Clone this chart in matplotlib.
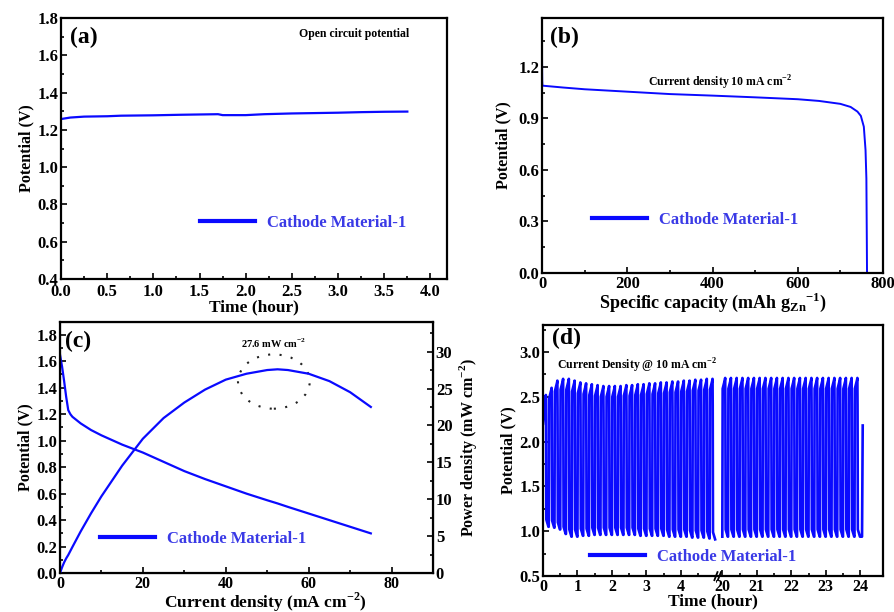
import numpy as np
import matplotlib
matplotlib.use("Agg")
import matplotlib.pyplot as plt
from matplotlib.patches import Ellipse
from matplotlib.ticker import MultipleLocator, FixedLocator, FormatStrFormatter

plt.rcParams['font.family'] = ['Liberation Serif', 'DejaVu Serif']
plt.rcParams['font.weight'] = 'bold'
plt.rcParams['axes.labelweight'] = 'bold'
plt.rcParams['mathtext.fontset'] = 'custom'
plt.rcParams['mathtext.rm'] = 'Liberation Serif:bold'
plt.rcParams['mathtext.bf'] = 'Liberation Serif:bold'

BLUE = '#0a0aff'
TXT_BLUE = '#3a3ae6'
LABEL = 'Cathode Material-1'

# (a) open circuit potential vs time
ocp_time = [0.0, 0.1, 0.25, 0.5, 0.65, 1.0, 1.3, 1.7, 1.75, 2.0, 2.2, 2.5, 2.75, 3.0, 3.25, 3.5, 3.75]
ocp_volt = [1.258, 1.266, 1.271, 1.273, 1.276, 1.278, 1.281, 1.284, 1.279, 1.279, 1.284, 1.288, 1.290,
            1.292, 1.295, 1.297, 1.298]

# (b) galvanostatic discharge
cap = [0, 0.5, 1, 50, 100, 200, 300, 400, 500, 600, 650, 700, 724, 740, 748, 755, 759, 761, 762, 762.5]
cap_volt = [1.26, 1.12, 1.091, 1.08, 1.07, 1.056, 1.042, 1.033, 1.023, 1.012, 1.002, 0.985, 0.967,
            0.94, 0.915, 0.852, 0.716, 0.55, 0.2, 0.0]

# (c) polarization and power density
cur = [0, 0.5, 1, 1.5, 2, 2.5, 3, 5, 7.5, 10, 15, 20, 25, 30, 35, 40, 45, 50, 52.5, 55, 60, 65, 70, 75]
pol_volt = [1.65, 1.56, 1.45, 1.33, 1.23, 1.20, 1.18, 1.13, 1.08, 1.04, 0.97, 0.91, 0.84, 0.77, 0.71,
            0.655, 0.60, 0.55, 0.526, 0.50, 0.45, 0.40, 0.35, 0.30]
power = [0, 0.78, 1.45, 2.0, 2.46, 3.0, 3.54, 5.65, 8.1, 10.4, 14.55, 18.2, 21.0, 23.1, 24.85, 26.2,
         27.0, 27.5, 27.6, 27.5, 27.0, 26.0, 24.5, 22.5]
peak_cur = 52.5
peak_power = 27.6

# (d) charge/discharge cycling, 10 min per cycle
cycle_period = 1 / 6
seg1_start = 0.0
seg1_high = [2.52, 2.60, 2.68, 2.70, 2.70, 2.68, 2.66, 2.65, 2.64, 2.63, 2.62, 2.62, 2.62, 2.62, 2.63,
             2.63, 2.64, 2.64, 2.65, 2.65, 2.66, 2.66, 2.67, 2.67, 2.68, 2.68, 2.69, 2.69, 2.70, 2.70]
seg1_low = [1.05, 1.04, 1.02, 0.97, 0.94, 0.94, 0.95, 0.95, 0.96, 0.96, 0.96, 0.96, 0.96, 0.96, 0.96,
            0.96, 0.95, 0.95, 0.95, 0.95, 0.95, 0.94, 0.94, 0.94, 0.94, 0.93, 0.93, 0.93, 0.92, 0.91]
seg2_start = 20.0
seg2_high = [2.71] * 24
seg2_low = [0.94] * 24
seg2_tail = 2.18
break_shift = 14.8  # hours 20-24 are pulled left next to 0-5

fig = plt.figure(figsize=(8.95, 6.12), dpi=100)


def style(ax, xsize=12, xpad=2):
    ax.tick_params(which='both', direction='in', labelsize=12, width=1.2)
    ax.tick_params(which='major', length=4, pad=2)
    ax.tick_params(axis='x', labelsize=xsize, pad=xpad)
    ax.tick_params(which='minor', length=2)
    ax.tick_params(axis='y', right=False)
    for s in ax.spines.values():
        s.set_linewidth(1.6)
    for lab in ax.get_xticklabels() + ax.get_yticklabels():
        lab.set_fontweight('bold')


def add_legend(ax, x, y):
    leg = ax.legend(loc='center left', bbox_to_anchor=(x, y), frameon=False, borderpad=0,
                    borderaxespad=0, handlelength=3.3, handletextpad=0.7,
                    prop={'size': 12, 'weight': 'bold'})
    for t in leg.get_texts():
        t.set_color(TXT_BLUE)
    for h in leg.get_lines():
        h.set_linewidth(3)


# ---- (a) ----
ax = fig.add_axes([0.0682, 0.5441, 0.4313, 0.4265])
ax.plot(ocp_time, ocp_volt, color=BLUE, lw=1.6, label=LABEL)
ax.set_xlim(0, 4.18)
ax.set_ylim(0.4, 1.8)
ax.xaxis.set_major_locator(MultipleLocator(0.5))
ax.xaxis.set_minor_locator(MultipleLocator(0.25))
ax.yaxis.set_major_locator(MultipleLocator(0.2))
ax.yaxis.set_minor_locator(MultipleLocator(0.1))
ax.set_xlabel('Time (hour)', fontsize=12.5, labelpad=0)
ax.set_ylabel('Potential (V)', fontsize=11.5, labelpad=2)
ax.text(0.023, 0.927, '(a)', transform=ax.transAxes, fontsize=17, va='center')
ax.text(0.759, 0.939, 'Open circuit potential', transform=ax.transAxes, fontsize=8.5,
        ha='center', va='center')
style(ax, xpad=3.5)
add_legend(ax, 0.36, 0.215)

# ---- (b) ----
ax = fig.add_axes([0.6056, 0.5539, 0.381, 0.4167])
ax.plot(cap, cap_volt, color=BLUE, lw=1.4, label=LABEL)
ax.set_xlim(0, 800)
ax.set_ylim(0, 1.485)
ax.xaxis.set_major_locator(MultipleLocator(200))
ax.xaxis.set_minor_locator(MultipleLocator(100))
ax.yaxis.set_major_locator(MultipleLocator(0.3))
ax.yaxis.set_minor_locator(MultipleLocator(0.15))
ax.yaxis.set_major_formatter(FormatStrFormatter('%.1f'))
ax.set_xlabel(r'Specific capacity (mAh g$_{\mathregular{Zn}}$$^{\mathregular{-1}}$)', fontsize=13,
              labelpad=-1)
ax.set_ylabel('Potential (V)', fontsize=11.5, labelpad=5)
ax.text(0.023, 0.925, '(b)', transform=ax.transAxes, fontsize=17, va='center')
ax.text(0.522, 0.745, r'Current density 10 mA cm$^{\mathregular{-2}}$', transform=ax.transAxes,
        fontsize=8.5, ha='center', va='center')
style(ax)
add_legend(ax, 0.147, 0.208)

# ---- (c) ----
ax = fig.add_axes([0.067, 0.0635, 0.4168, 0.4103])
ax.plot(cur, pol_volt, color=BLUE, lw=1.6, label=LABEL)
ax.set_xlim(0, 90)
ax.set_ylim(0, 1.895)
ax.xaxis.set_major_locator(MultipleLocator(20))
ax.xaxis.set_minor_locator(MultipleLocator(10))
ax.yaxis.set_major_locator(MultipleLocator(0.2))
ax.yaxis.set_minor_locator(MultipleLocator(0.1))
ax.set_xlabel(r'Current density (mA cm$^{\mathregular{-2}}$)', fontsize=12.5)
ax.xaxis.set_label_coords(0.55, -0.068)
ax.set_ylabel('Potential (V)', fontsize=11.5, labelpad=2)
ax.text(0.013, 0.921, '(c)', transform=ax.transAxes, fontsize=17, va='center')
ax.add_patch(Ellipse((51.6, 1.446), 17.3, 0.41, fill=False, edgecolor='#222222', lw=1.5,
                     linestyle=(0, (1, 4.5))))
style(ax, xsize=11.5)
add_legend(ax, 0.107, 0.135)

ax2 = ax.twinx()
ax2.plot(cur, power, color=BLUE, lw=1.6)
ax2.set_ylim(0, 34)
ax2.yaxis.set_major_locator(MultipleLocator(5))
ax2.yaxis.set_minor_locator(MultipleLocator(2.5))
ax2.set_ylabel(r'Power density (mW cm$^{\mathregular{-2}}$)', fontsize=11.5, labelpad=3)
ax2.tick_params(which='both', direction='in', labelsize=12, width=1.2)
ax2.tick_params(which='major', length=4, pad=2)
ax2.tick_params(which='minor', length=2)
for lab in ax2.get_yticklabels():
    lab.set_fontweight('bold')
ax2.text(peak_cur - 0.9, 1.73 * 34 / 1.895, r'%.1f mW cm$^{\mathregular{-2}}$' % peak_power,
         fontsize=7.5, ha='center', va='center')

# ---- (d) ----
ax = fig.add_axes([0.6067, 0.0586, 0.3799, 0.4103])


def cycle_trace(start, highs, lows, first=None):
    tx, ty = [], []
    for i, (hi, lo) in enumerate(zip(highs, lows)):
        ts = start + i * cycle_period
        prev_lo = lows[i - 1] if i > 0 else lo
        if i == 0 and first is not None:
            tx += [ts]
            ty += [first]
        else:
            tx += [ts, ts + 0.01]
            ty += [prev_lo, hi - 0.12]
        tx += [ts + 0.45 * cycle_period, ts + 0.5 * cycle_period, ts + 0.53 * cycle_period,
               ts + 0.58 * cycle_period, ts + 0.95 * cycle_period]
        ty += [hi - 0.02, hi, hi - 0.3, lo + 0.08, lo]
    return np.array(tx), np.array(ty)


def to_axis(hours):
    return [h if h < 10 else h - break_shift for h in hours]


t1, v1 = cycle_trace(seg1_start, seg1_high, seg1_low, first=2.2)
t2, v2 = cycle_trace(seg2_start, seg2_high, seg2_low)
t2 = np.append(t2, [t2[-1] + 0.06, t2[-1] + 0.08])
v2 = np.append(v2, [seg2_low[-1], seg2_tail])
ax.plot(t1, v1, color=BLUE, lw=1.9)
ax.plot(t2 - break_shift, v2, color=BLUE, lw=1.9, label=LABEL)
ax.set_xlim(0, 9.86)
ax.set_ylim(0.5, 3.3)
hours = [0, 1, 2, 3, 4, 20, 21, 22, 23, 24]
ax.xaxis.set_major_locator(FixedLocator(to_axis(hours)))
ax.xaxis.set_minor_locator(FixedLocator(to_axis([0.5, 1.5, 2.5, 3.5, 4.5, 20.5, 21.5, 22.5, 23.5])))
ax.set_xticklabels([str(h) for h in hours])
ax.yaxis.set_major_locator(MultipleLocator(0.5))
ax.yaxis.set_minor_locator(MultipleLocator(0.25))
ax.set_xlabel('Time (hour)', fontsize=12.5, labelpad=-1)
ax.set_ylabel('Potential (V)', fontsize=11.5, labelpad=2)
ax.text(0.026, 0.945, '(d)', transform=ax.transAxes, fontsize=17, va='center')
ax.text(0.041, 0.839, r'Current Density @ 10 mA cm$^{\mathregular{-2}}$', transform=ax.transAxes,
        fontsize=8.5, ha='left', va='center')
# axis break mark
brk = ax.get_xaxis_transform()
for x0 in (4.97, 5.07):
    ax.plot([x0, x0 + 0.09], [-0.016, 0.016], color='black', lw=1.3, transform=brk, clip_on=False)
style(ax, xsize=11.5)
add_legend(ax, 0.138, 0.075)

fig.savefig('out.png', dpi=100)
